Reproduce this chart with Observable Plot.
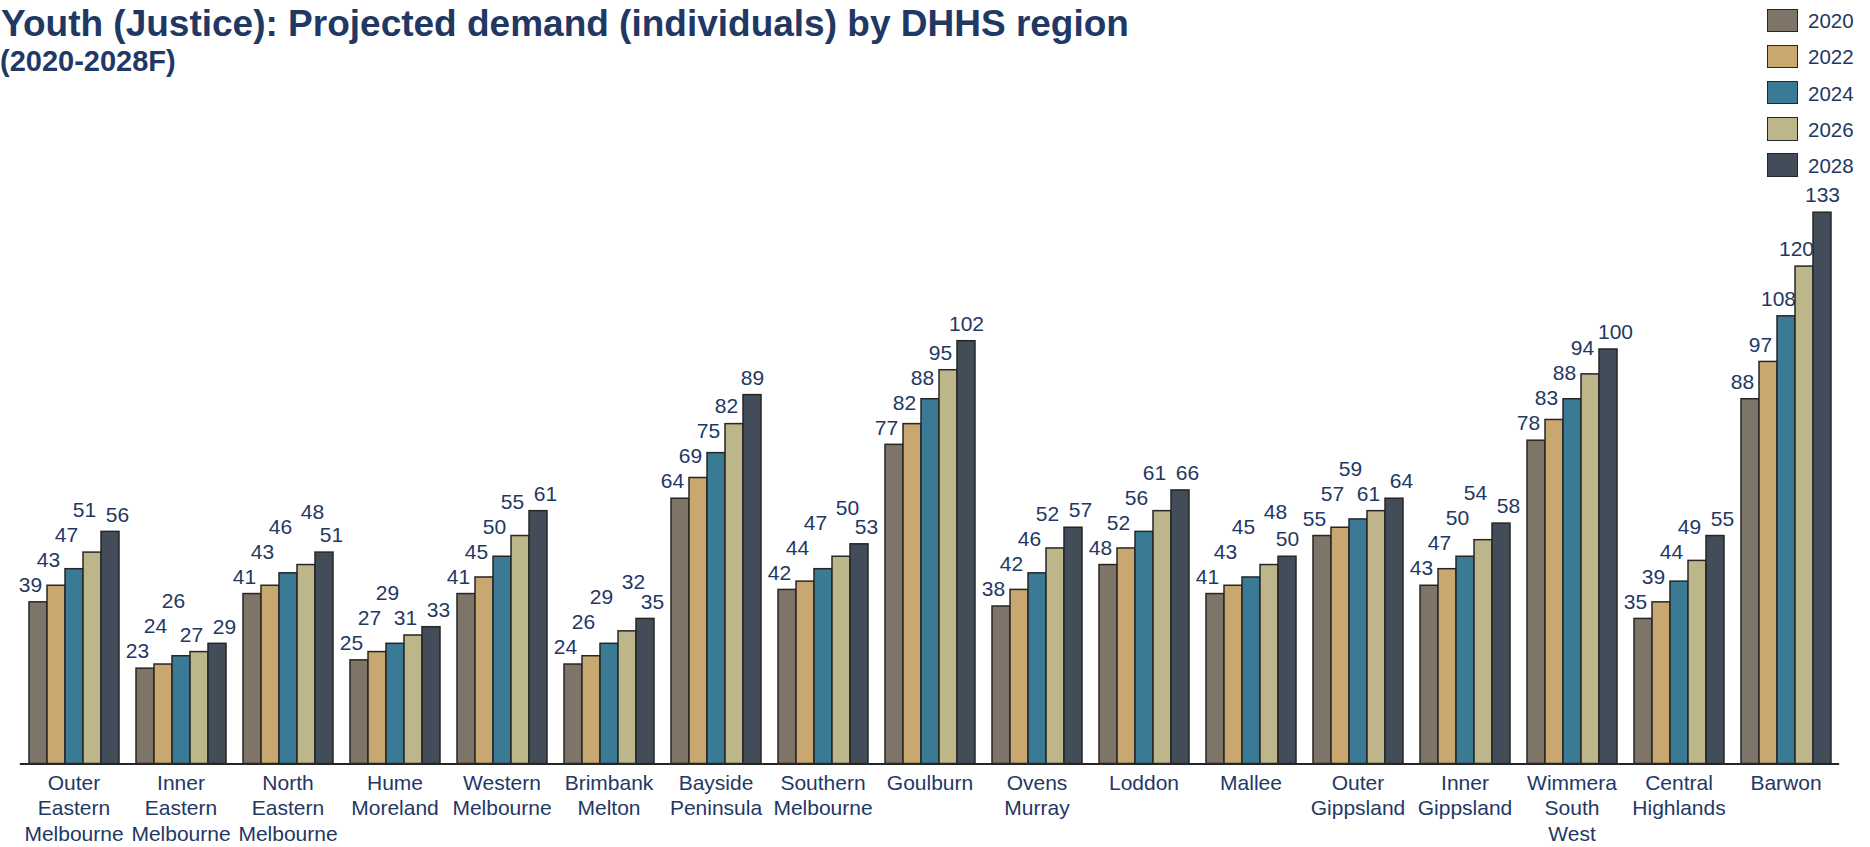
<!DOCTYPE html>
<html>
<head>
<meta charset="utf-8">
<script src="https://cdn.jsdelivr.net/npm/d3@7"></script>
<script src="https://cdn.jsdelivr.net/npm/@observablehq/plot@0.6"></script>
<style>
  html, body { margin: 0; padding: 0; background: #ffffff; }
  #wrap { position: relative; width: 1870px; height: 847px; overflow: hidden; font-family: Arial, "Liberation Sans", sans-serif; }
  #header { position: relative; height: 80px; }
  .title { position: absolute; left: 1px; top: 4.5px; font-size: 37px; font-weight: bold; line-height: 1; color: #1F3864; white-space: nowrap; }
  .subtitle { position: absolute; left: 0px; top: 46.5px; font-size: 29px; font-weight: bold; line-height: 1; color: #1F3864; white-space: nowrap; }
  #legend { position: absolute; left: 1767px; top: 0; }
  .sw { position: absolute; left: 0; width: 31px; height: 23.5px; box-sizing: border-box; border: 1.5px solid #262626; }
  .lt { position: absolute; left: 41px; font-size: 20.5px; line-height: 1; color: #1F3864; white-space: nowrap; }
  #chart svg { display: block; }
</style>
</head>
<body>
<div id="wrap">
  <div id="header">
    <div class="title">Youth (Justice): Projected demand (individuals) by DHHS region</div>
    <div class="subtitle">(2020-2028F)</div>
  </div>
  <div id="chart"></div>
  <div id="legend"></div>
</div>
<script>
// ---- data ----
const regions = [
  "Outer Eastern Melbourne", "Inner Eastern Melbourne", "North Eastern Melbourne", "Hume Moreland",
  "Western Melbourne", "Brimbank Melton", "Bayside Peninsula", "Southern Melbourne", "Goulburn",
  "Ovens Murray", "Loddon", "Mallee", "Outer Gippsland", "Inner Gippsland", "Wimmera South West",
  "Central Highlands", "Barwon"
];
const regionLabels = [
  "Outer\nEastern\nMelbourne", "Inner\nEastern\nMelbourne", "North\nEastern\nMelbourne", "Hume\nMoreland",
  "Western\nMelbourne", "Brimbank\nMelton", "Bayside\nPeninsula", "Southern\nMelbourne", "Goulburn",
  "Ovens\nMurray", "Loddon", "Mallee", "Outer\nGippsland", "Inner\nGippsland", "Wimmera\nSouth\nWest",
  "Central\nHighlands", "Barwon"
];
const years = ["2020", "2022", "2024", "2026", "2028"];
const v2020 = [39, 23, 41, 25, 41, 24, 64, 42, 77, 38, 48, 41, 55, 43, 78, 35, 88];
const v2022 = [43, 24, 43, 27, 45, 26, 69, 44, 82, 42, 52, 43, 57, 47, 83, 39, 97];
const v2024 = [47, 26, 46, 29, 50, 29, 75, 47, 88, 46, 56, 45, 59, 50, 88, 44, 108];
const v2026 = [51, 27, 48, 31, 55, 32, 82, 50, 95, 52, 61, 48, 61, 54, 94, 49, 120];
const v2028 = [56, 29, 51, 33, 61, 35, 89, 53, 102, 57, 66, 50, 64, 58, 100, 55, 133];
const colors = ["#7E7468", "#C8A870", "#3A7A94", "#BDB68A", "#434D5A"];

// ---- layout constants ----
const navy = "#1F3864";
const W = 1870, H = 767;
const mTop = 103.2, mBottom = 83.5;
const yMax = 140;
const PPU = (H - mTop - mBottom) / yMax; // px per unit

const series = [v2020, v2022, v2024, v2026, v2028];
const rows = [];
regions.forEach((r, ri) => years.forEach((yr, yi) => rows.push({region: r, year: yr, value: series[yi][ri]})));

// label placement (collision avoidance in pixel space, converted to data units)
const labels = [];
regions.forEach((r, ri) => {
  const vals = series.map(s => s[ri]);
  const nat = vals.map(v => v * PPU + 17);
  const out = [{y: nat[0], dx: -8}];
  for (let i = 1; i <= 3; i++) {
    const prev = out[i - 1].y, n = nat[i], d = prev - n;
    if (i === 3 && d >= 12 && d < 25) out.push({y: prev + 15, dx: 6});
    else if (Math.abs(n - prev) >= 25) out.push({y: n, dx: -8});
    else out.push({y: prev + 25, dx: -8});
  }
  out.push({y: nat[4], dx: Math.abs(nat[4] - out[3].y) < 26.5 ? 7 : 0});
  out.forEach((o, i) => labels.push({region: r, year: years[i], value: vals[i], ly: o.y / PPU, dx: o.dx}));
});

const labelOf = new Map(regions.map((r, i) => [r, regionLabels[i]]));
const dxs = Array.from(new Set(labels.map(d => d.dx)));

const textMarks = dxs.map(dx => Plot.text(labels.filter(d => d.dx === dx), {
  fx: "region", x: "year", y: "ly", text: d => String(d.value),
  dx, fill: navy, fontSize: 21, lineAnchor: "middle"
}));

const chart = Plot.plot({
  width: W, height: H,
  marginLeft: 13, marginRight: 25, marginTop: mTop, marginBottom: mBottom,
  style: {fontFamily: "Arial, 'Liberation Sans', sans-serif", fontSize: "20px", color: navy, background: "white"},
  fx: {domain: regions, paddingInner: 0.1327, paddingOuter: 0.063, label: null},
  x: {domain: years, paddingInner: 0, paddingOuter: 0, axis: null},
  y: {domain: [0, yMax], axis: null},
  color: {domain: years, range: colors},
  marks: [
    Plot.barY(rows, {fx: "region", x: "year", y: "value", fill: "year", stroke: "#262626", strokeWidth: 1.5, inset: 0}),
    Plot.ruleY([0], {stroke: "#262626", strokeWidth: 2, insetLeft: -7.15, insetRight: -7.15}),
    ...textMarks,
    Plot.axisFx({anchor: "bottom", tickSize: 0, tickPadding: 7.5, fontSize: 21, lineHeight: 1.214,
      tickFormat: d => labelOf.get(d), label: null, fill: navy})
  ]
});
document.getElementById("chart").appendChild(chart);

// ---- legend ----
const legend = document.getElementById("legend");
years.forEach((yr, i) => {
  const sw = document.createElement("div");
  sw.className = "sw";
  sw.style.top = (8.5 + i * 36.2) + "px";
  sw.style.background = colors[i];
  legend.appendChild(sw);
  const t = document.createElement("div");
  t.className = "lt";
  t.style.top = (11.2 + i * 36.2) + "px";
  t.textContent = yr;
  legend.appendChild(t);
});
</script>
</body>
</html>
